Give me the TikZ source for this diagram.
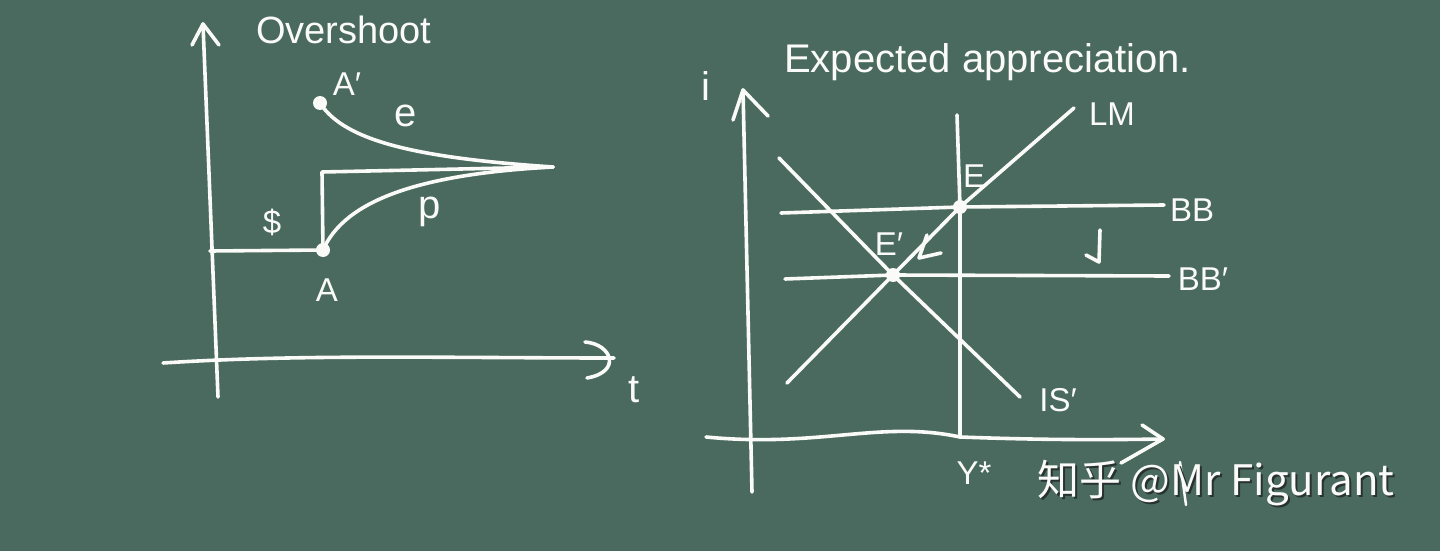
\documentclass[tikz,border=0pt]{standalone}
\usepackage{fontspec}
\setmainfont{Liberation Sans}
\newfontfamily\cjkfont{Noto Sans CJK SC}
\definecolor{board}{RGB}{74,106,96}
\definecolor{chalk}{RGB}{250,250,248}
\definecolor{shadowc}{RGB}{40,50,48}
\begin{document}
\begin{tikzpicture}[x=1pt,y=-1pt,
  chalkline/.style={draw=chalk,line width=3.6pt,line cap=round,line join=round},
  lbl/.style={text=chalk,inner sep=0pt,font=\fontsize{33}{38}\selectfont},
  biglbl/.style={lbl,font=\fontsize{40}{46}\selectfont},
  dot/.style={circle,fill=chalk,inner sep=0pt,minimum size=14pt}]
\fill[board] (0,0) rectangle (1440,551);
\useasboundingbox (0,0) rectangle (1440,551);

% ---------- left diagram ----------
\coordinate (vb) at (218,397);
\coordinate (vt) at (203,24);
\coordinate (vl) at (192,45);
\coordinate (vr) at (219,45);
\draw[chalkline] (vb) -- (vt);
\draw[chalkline] (vl) -- (vt) -- (vr);

\coordinate (hl) at (163,363);
\coordinate (ht) at (614,358);
\coordinate (hu) at (585,342);
\coordinate (hd) at (587,378);
\draw[chalkline] (hl) .. controls (300,354) and (450,358) .. (ht);
\draw[chalkline] (hu) .. controls (612,344) and (622,372) .. (hd);

\node[dot] (A) at (323,250) {};
\node[dot] (Ap) at (320,103) {};
\coordinate (meet) at (553,167);
\coordinate (corner) at (322,172);
\coordinate (dl) at (210,251);

\draw[chalkline] (Ap.center) .. controls (345,142) and (420,158) .. (meet);
\draw[chalkline] (A.center) -- (corner) -- (meet);
\draw[chalkline] (A.center) .. controls (345,200) and (420,174) .. (meet);
\draw[chalkline] (dl) -- (A.center);

\node[lbl,anchor=west,font=\fontsize{38}{44}\selectfont] (over) at (256,30) {Overshoot};
\node[lbl] (lAp) at (347,84) {A′};
\node[biglbl] (le) at (406,116) {e};
\node[lbl] (ld) at (272,222) {\$};
\node[biglbl] (lp) at (430,212) {p};
\node[lbl] (lA) at (327,290) {A};
\node[biglbl] (lt) at (634,390) {t};

% ---------- right diagram ----------
\coordinate (ib) at (752,492);
\coordinate (it) at (743,90);
\coordinate (il) at (733,120);
\coordinate (ir) at (768,116);
\draw[chalkline] (ib) -- (it);
\draw[chalkline] (il) -- (it) -- (ir);

\coordinate (yl) at (706,437);
\coordinate (yt) at (1163,439);
\coordinate (yu) at (1142,425);
\coordinate (yd) at (1121,463);
\draw[chalkline] (yl) .. controls (820,448) and (880,420) .. (960,437) .. controls (1040,440) and (1100,440) .. (yt);
\draw[chalkline] (yu) -- (yt) -- (yd);

\node[dot] (E) at (960,207) {};
\node[dot] (Ep) at (893,275) {};

\coordinate (ystt) at (957,115);
\coordinate (ystb) at (960,437);
\draw[chalkline] (ystt) -- (E.center) -- (ystb);

\coordinate (lmb) at (787,383);
\coordinate (lmt) at (1074,108);
\draw[chalkline] (lmb) -- (Ep.center) -- (E.center) -- (lmt);

\coordinate (ist) at (779,158);
\coordinate (isb) at (1020,397);
\draw[chalkline] (ist) -- (Ep.center) -- (isb);

\coordinate (bbl) at (781,213);
\coordinate (bbr) at (1164,205);
\draw[chalkline] (bbl) -- (E.center) -- (bbr);

\coordinate (bpl) at (785,279);
\coordinate (bpr) at (1169,276);
\draw[chalkline] (bpl) -- (Ep.center) -- (bpr);

% small arrow marks
\coordinate (la1) at (927,235);
\coordinate (la2) at (919,258);
\coordinate (la3) at (941,253);
\draw[chalkline] (la1) -- (la2) -- (la3);
\coordinate (ja1) at (1100,230);
\coordinate (ja2) at (1099,262);
\coordinate (ja3) at (1086,255);
\draw[chalkline] (ja1) -- (ja2) -- (ja3);

% hidden Y fragment
\coordinate (yf1) at (1180,462);
\coordinate (yf2) at (1186,505);
\draw[chalkline,line width=2.5pt] (yf1) -- (yf2);

\node[biglbl] (li) at (706,86) {i};
\node[lbl,anchor=west,font=\fontsize{40}{46}\selectfont] (exp) at (784,62) {Expected appreciation.};
\node[lbl] (lLM) at (1112,114) {LM};
\node[lbl] (lE) at (974,176) {E};
\node[lbl] (lBB) at (1192,210) {BB};
\node[lbl] (lEp) at (889,244) {E′};
\node[lbl] (lBBp) at (1203,279) {BB′};
\node[lbl] (lIS) at (1058,400) {IS′};
\node[lbl] (lY) at (974,473) {Y*};

% watermark
\node[inner sep=0pt,text=shadowc,font=\cjkfont\fontsize{42}{48}\selectfont] (wms) at (1218,485) {知乎 @Mr Figurant};
\node[inner sep=0pt,text=chalk,font=\cjkfont\fontsize{42}{48}\selectfont] (wm) at (1216,483) {知乎 @Mr Figurant};
\end{tikzpicture}
\end{document}
